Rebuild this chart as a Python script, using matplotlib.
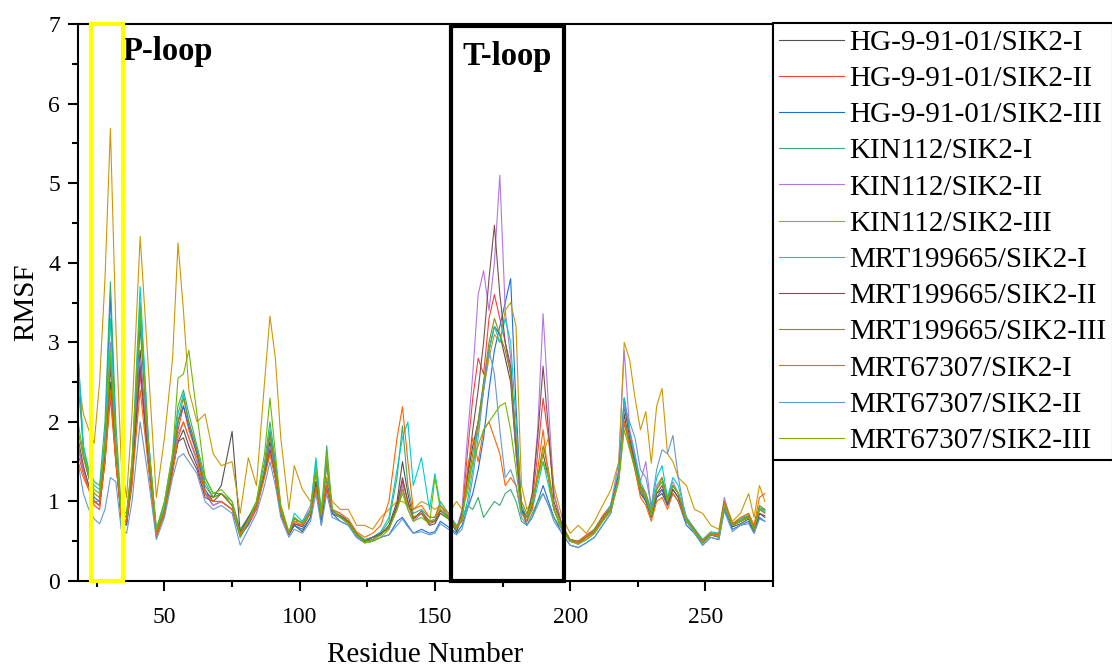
import matplotlib
matplotlib.use("Agg")
import matplotlib.pyplot as plt
from matplotlib.patches import Rectangle
from matplotlib.ticker import MultipleLocator

plt.rcParams['font.family'] = ['Liberation Serif', 'DejaVu Serif']

# residue positions (shared by all series), split by region
res_a = [18, 20, 22, 24, 26, 28, 30, 32, 34, 36, 38]
res_b = [41, 44, 47, 50, 53, 55, 57, 59, 62, 65, 68, 71]
res_c = [75, 78, 81, 84, 87, 89, 91, 93, 96, 98, 101, 104, 106, 108, 110, 112]
res_d = [115, 118, 121, 124, 127, 130, 133, 136, 138, 140, 142, 145, 148, 150, 152, 155, 158]
res_e = [160, 162, 164, 166, 168, 170, 172, 174, 176, 178, 180, 182, 184, 186, 188, 190, 192, 194, 197]
res_f = [200, 203, 206, 209, 212, 215, 218, 220, 222, 224, 226, 228, 230, 232, 234, 236, 238, 240]
res_g = [243, 246, 249, 252, 255, 257, 260, 263, 266, 268, 270, 272]
residues = res_a + res_b + res_c + res_d + res_e + res_f + res_g

labels = ["HG-9-91-01/SIK2-I", "HG-9-91-01/SIK2-II", "HG-9-91-01/SIK2-III",
          "KIN112/SIK2-I", "KIN112/SIK2-II", "KIN112/SIK2-III",
          "MRT199665/SIK2-I", "MRT199665/SIK2-II", "MRT199665/SIK2-III",
          "MRT67307/SIK2-I", "MRT67307/SIK2-II", "MRT67307/SIK2-III"]
colors = ['#515151', '#F14040', '#1A6FDF', '#37AD6B', '#B177DE', '#CC9900',
          '#00CBCC', '#7D4E4E', '#8E8E00', '#FB6501', '#6699CC', '#6FB802']

hg_1 = ([1.7, 1.4, 1.2, 1.0, 0.95, 1.5, 2.5, 1.5, 0.8, 0.75, 1.25]
        + [2.9, 1.5, 0.6, 0.85, 1.4, 1.75, 1.9, 1.7, 1.45, 1.1, 1.05, 1.2]
        + [1.88, 0.6, 0.8, 0.9, 1.35, 1.75, 1.3, 0.85, 0.58, 0.7, 0.62, 0.8, 1.2, 0.75, 1.2, 0.85]
        + [0.8, 0.72, 0.58, 0.5, 0.55, 0.58, 0.7, 1.0, 1.5, 1.1, 0.8, 0.85, 0.7, 0.72, 0.85, 0.78, 0.62]
        + [0.8, 1.3, 1.7, 2.0, 2.4, 2.9, 3.2, 3.1, 2.8, 2.5, 1.6, 0.9, 0.75, 0.95, 1.3, 1.6, 1.3, 0.9, 0.65]
        + [0.5, 0.48, 0.55, 0.62, 0.78, 0.9, 1.35, 2.1, 1.7, 1.4, 1.1, 1.0, 0.8, 1.05, 1.1, 0.95, 1.15, 1.05]
        + [0.75, 0.62, 0.48, 0.58, 0.55, 0.95, 0.68, 0.72, 0.78, 0.62, 0.85, 0.8])
hg_2 = ([1.6, 1.35, 1.15, 0.95, 0.9, 1.5, 2.3, 1.5, 0.8, 0.72, 1.2]
        + [2.6, 1.5, 0.55, 0.85, 1.45, 1.9, 2.2, 1.9, 1.6, 1.1, 0.95, 1.0]
        + [0.9, 0.58, 0.7, 0.9, 1.35, 1.6, 1.3, 0.85, 0.6, 0.72, 0.7, 0.9, 1.15, 0.85, 1.15, 0.88]
        + [0.82, 0.75, 0.6, 0.5, 0.55, 0.6, 0.65, 0.95, 1.25, 1.0, 0.78, 0.85, 0.72, 0.75, 0.9, 0.78, 0.66]
        + [0.8, 1.6, 2.3, 2.8, 2.6, 3.3, 3.6, 3.3, 3.0, 2.6, 1.7, 0.95, 0.8, 1.0, 1.6, 2.3, 1.8, 1.1, 0.7]
        + [0.52, 0.5, 0.58, 0.65, 0.82, 0.95, 1.3, 2.0, 1.75, 1.5, 1.2, 1.05, 0.82, 1.1, 1.15, 1.0, 1.2, 1.1]
        + [0.8, 0.66, 0.52, 0.6, 0.58, 0.95, 0.7, 0.75, 0.82, 0.66, 0.9, 0.88])
hg_3 = ([2.9, 1.6, 1.3, 1.05, 1.0, 1.8, 3.6, 1.7, 0.75, 0.7, 1.3]
        + [3.2, 1.7, 0.62, 0.9, 1.5, 2.0, 2.2, 1.95, 1.6, 1.15, 1.0, 1.0]
        + [0.9, 0.55, 0.72, 0.95, 1.4, 1.85, 1.4, 0.85, 0.58, 0.7, 0.65, 0.8, 1.25, 0.7, 1.3, 0.85]
        + [0.75, 0.7, 0.55, 0.48, 0.5, 0.55, 0.58, 0.75, 0.8, 0.7, 0.6, 0.65, 0.6, 0.62, 0.75, 0.68, 0.6]
        + [0.7, 0.9, 1.1, 1.4, 1.8, 2.4, 2.9, 3.2, 3.5, 3.8, 2.2, 0.9, 0.7, 0.8, 1.0, 1.2, 1.0, 0.8, 0.6]
        + [0.45, 0.42, 0.48, 0.55, 0.7, 0.85, 1.3, 2.3, 1.9, 1.5, 1.15, 1.0, 0.8, 1.05, 1.15, 0.95, 1.1, 1.0]
        + [0.7, 0.6, 0.45, 0.55, 0.52, 0.9, 0.65, 0.7, 0.75, 0.6, 0.8, 0.75])
kin_1 = ([2.5, 1.7, 1.4, 1.25, 1.2, 2.0, 3.76, 2.0, 0.9, 0.85, 1.5]
         + [3.5, 1.8, 0.65, 1.0, 1.6, 2.2, 2.4, 2.1, 1.7, 1.3, 1.1, 1.1]
         + [1.0, 0.65, 0.8, 1.0, 1.5, 2.0, 1.5, 0.95, 0.6, 0.8, 0.72, 0.9, 1.5, 0.85, 1.7, 0.9]
         + [0.8, 0.75, 0.6, 0.5, 0.52, 0.6, 0.75, 1.3, 1.95, 1.2, 0.85, 0.9, 0.8, 0.8, 1.0, 0.85, 0.7]
         + [0.75, 0.95, 0.9, 1.05, 0.8, 0.9, 1.0, 0.95, 1.1, 1.15, 1.0, 0.75, 0.7, 0.85, 1.0, 1.1, 0.95, 0.8, 0.65]
         + [0.5, 0.48, 0.52, 0.6, 0.75, 0.9, 1.3, 2.0, 1.75, 1.45, 1.15, 1.05, 0.82, 1.15, 1.25, 1.0, 1.2, 1.1]
         + [0.75, 0.62, 0.5, 0.6, 0.58, 0.95, 0.7, 0.78, 0.82, 0.65, 0.92, 0.9])
kin_2 = ([1.7, 1.4, 1.2, 1.0, 1.0, 1.7, 3.0, 1.6, 0.85, 0.8, 1.3]
         + [2.8, 1.6, 0.6, 0.9, 1.45, 1.85, 2.0, 1.8, 1.5, 1.1, 0.95, 1.0]
         + [0.9, 0.6, 0.75, 0.9, 1.35, 1.7, 1.35, 0.88, 0.6, 0.75, 0.75, 0.95, 1.2, 0.8, 1.45, 0.88]
         + [0.8, 0.72, 0.6, 0.52, 0.55, 0.6, 0.66, 0.9, 1.2, 0.9, 0.75, 0.85, 0.75, 0.78, 0.9, 0.8, 0.65]
         + [0.9, 1.8, 2.6, 3.6, 3.9, 3.4, 4.0, 5.1, 3.4, 2.8, 1.6, 0.9, 0.8, 1.1, 1.9, 3.36, 2.2, 1.1, 0.7]
         + [0.52, 0.5, 0.55, 0.65, 0.8, 0.95, 1.5, 2.9, 1.9, 1.6, 1.25, 1.5, 0.9, 1.2, 1.3, 1.05, 1.25, 1.1]
         + [0.8, 0.65, 0.5, 0.6, 0.6, 1.05, 0.7, 0.75, 0.8, 0.65, 0.9, 0.85])
kin_3 = ([2.6, 2.1, 1.9, 1.73, 2.5, 3.8, 5.69, 3.2, 1.5, 1.05, 2.1]
         + [4.33, 2.7, 1.05, 1.8, 2.8, 4.25, 3.4, 2.4, 2.0, 2.1, 1.6, 1.45]
         + [1.5, 0.85, 1.55, 1.2, 2.5, 3.33, 2.8, 1.8, 0.9, 1.45, 1.15, 1.0, 1.2, 0.95, 1.3, 1.0]
         + [0.9, 0.9, 0.7, 0.7, 0.65, 0.8, 0.9, 1.0, 1.0, 0.95, 0.9, 1.0, 0.95, 0.9, 0.95, 0.85, 1.0]
         + [0.9, 1.1, 1.5, 1.9, 2.4, 2.8, 3.1, 3.0, 3.4, 3.5, 3.2, 1.2, 0.9, 1.0, 1.3, 1.6, 1.8, 1.2, 0.8]
         + [0.6, 0.7, 0.6, 0.75, 0.95, 1.14, 1.5, 3.0, 2.78, 2.3, 1.9, 2.13, 1.48, 2.2, 2.42, 1.6, 1.5, 1.3]
         + [1.2, 0.9, 0.85, 0.7, 0.65, 1.0, 0.75, 0.85, 1.1, 0.8, 1.2, 1.0])
mrt199_1 = ([2.9, 1.7, 1.35, 1.2, 1.15, 1.8, 3.3, 1.8, 0.85, 0.8, 1.5]
            + [3.7, 1.8, 0.62, 0.95, 1.55, 2.1, 2.35, 2.0, 1.65, 1.25, 1.05, 1.1]
            + [0.95, 0.6, 0.78, 0.95, 1.4, 1.9, 1.45, 0.9, 0.6, 0.85, 0.75, 0.9, 1.55, 0.85, 1.5, 0.9]
            + [0.85, 0.75, 0.6, 0.52, 0.55, 0.62, 0.8, 1.4, 1.8, 2.0, 1.2, 1.55, 0.9, 1.35, 0.95, 0.8, 0.7]
            + [0.75, 1.0, 1.4, 2.0, 2.5, 2.9, 3.2, 3.0, 3.3, 3.0, 2.0, 0.95, 0.8, 0.9, 1.2, 1.5, 1.2, 0.9, 0.65]
            + [0.5, 0.48, 0.55, 0.65, 0.8, 0.95, 1.4, 2.3, 1.85, 1.55, 1.25, 1.1, 0.9, 1.3, 1.45, 1.05, 1.3, 1.2]
            + [0.8, 0.65, 0.52, 0.62, 0.6, 0.95, 0.72, 0.78, 0.85, 0.68, 0.92, 0.88])
mrt199_2 = ([1.8, 1.45, 1.2, 1.0, 0.95, 1.6, 2.7, 1.6, 0.8, 0.75, 1.3]
            + [2.7, 1.5, 0.58, 0.85, 1.4, 1.75, 1.8, 1.6, 1.4, 1.05, 1.0, 1.1]
            + [0.95, 0.62, 0.8, 0.95, 1.35, 1.65, 1.3, 0.85, 0.6, 0.72, 0.68, 0.85, 1.25, 0.8, 1.2, 0.88]
            + [0.82, 0.75, 0.58, 0.5, 0.55, 0.6, 0.68, 0.95, 1.3, 1.0, 0.78, 0.88, 0.75, 0.75, 0.88, 0.8, 0.65]
            + [0.85, 1.3, 1.9, 2.4, 3.0, 3.8, 4.47, 3.6, 3.0, 2.7, 1.7, 0.9, 0.8, 1.1, 1.8, 2.7, 1.9, 1.0, 0.7]
            + [0.5, 0.48, 0.55, 0.62, 0.78, 0.9, 1.35, 2.2, 1.8, 1.45, 1.15, 1.05, 0.82, 1.1, 1.2, 0.98, 1.15, 1.05]
            + [0.75, 0.62, 0.48, 0.58, 0.56, 0.98, 0.7, 0.75, 0.8, 0.62, 0.85, 0.82])
mrt199_3 = ([1.9, 1.55, 1.3, 1.1, 1.05, 1.7, 2.8, 1.7, 0.85, 0.8, 1.4]
            + [3.3, 1.7, 0.6, 0.9, 1.5, 2.0, 2.3, 2.0, 1.65, 1.2, 1.05, 1.1]
            + [0.95, 0.58, 0.75, 0.95, 1.4, 1.85, 1.4, 0.9, 0.6, 0.78, 0.72, 0.88, 1.35, 0.82, 1.5, 0.9]
            + [0.8, 0.74, 0.6, 0.5, 0.52, 0.58, 0.68, 0.9, 1.15, 0.95, 0.8, 0.85, 0.74, 0.76, 0.9, 0.8, 0.66]
            + [0.8, 1.2, 1.6, 2.0, 2.5, 3.0, 3.3, 3.1, 2.9, 2.6, 1.8, 1.0, 0.85, 1.0, 1.3, 1.7, 1.4, 0.95, 0.7]
            + [0.52, 0.5, 0.56, 0.65, 0.8, 0.92, 1.3, 2.0, 1.7, 1.45, 1.2, 1.1, 0.85, 1.15, 1.3, 1.02, 1.2, 1.1]
            + [0.78, 0.64, 0.5, 0.6, 0.58, 1.0, 0.72, 0.76, 0.82, 0.66, 0.95, 0.9])
mrt673_1 = ([1.5, 1.3, 1.15, 1.0, 0.95, 1.5, 2.4, 1.5, 0.82, 0.75, 1.25]
            + [2.4, 1.45, 0.58, 0.85, 1.35, 1.8, 2.0, 1.8, 1.55, 1.1, 1.0, 1.0]
            + [0.9, 0.6, 0.75, 0.92, 1.3, 1.6, 1.3, 0.85, 0.6, 0.75, 0.7, 0.85, 1.15, 0.85, 1.2, 0.9]
            + [0.85, 0.78, 0.62, 0.55, 0.6, 0.7, 1.0, 1.8, 2.19, 1.5, 0.9, 0.95, 0.8, 0.8, 0.95, 0.82, 0.68]
            + [0.75, 1.4, 1.8, 1.5, 1.9, 2.0, 1.8, 1.6, 1.2, 1.3, 1.2, 0.85, 0.75, 0.9, 1.4, 1.9, 1.3, 0.9, 0.65]
            + [0.5, 0.48, 0.55, 0.62, 0.78, 0.9, 1.3, 2.0, 1.7, 1.4, 1.05, 0.95, 0.75, 1.0, 1.05, 0.9, 1.1, 1.0]
            + [0.75, 0.62, 0.5, 0.6, 0.58, 0.98, 0.72, 0.8, 0.85, 0.7, 1.05, 1.1])
mrt673_2 = ([1.5, 1.1, 0.9, 0.78, 0.72, 0.9, 1.3, 1.25, 0.65, 0.6, 1.0]
            + [2.0, 1.3, 0.52, 0.8, 1.3, 1.55, 1.6, 1.5, 1.35, 1.0, 0.9, 0.95]
            + [0.85, 0.45, 0.65, 0.85, 1.2, 1.5, 1.2, 0.8, 0.55, 0.65, 0.6, 0.75, 1.1, 0.7, 1.1, 0.8]
            + [0.75, 0.7, 0.55, 0.48, 0.5, 0.55, 0.58, 0.7, 0.78, 0.68, 0.6, 0.62, 0.58, 0.6, 0.72, 0.65, 0.58]
            + [0.65, 0.9, 1.3, 1.8, 2.4, 2.9, 2.6, 1.9, 1.3, 1.4, 1.2, 0.8, 0.7, 0.8, 0.95, 1.1, 0.95, 0.75, 0.6]
            + [0.45, 0.42, 0.48, 0.55, 0.7, 0.85, 1.3, 2.2, 2.0, 1.8, 1.4, 1.3, 0.95, 1.4, 1.65, 1.6, 1.83, 1.3]
            + [0.75, 0.6, 0.45, 0.55, 0.52, 0.88, 0.62, 0.7, 0.72, 0.6, 0.78, 0.75])
mrt673_3 = ([2.0, 1.6, 1.35, 1.15, 1.1, 1.7, 2.9, 1.7, 0.9, 0.85, 1.5]
            + [3.4, 1.75, 0.65, 1.0, 1.6, 2.55, 2.6, 2.9, 2.1, 1.3, 1.1, 1.15]
            + [1.0, 0.55, 0.75, 1.0, 1.6, 2.3, 1.6, 0.95, 0.62, 0.8, 0.72, 0.88, 1.4, 0.82, 1.6, 0.9]
            + [0.8, 0.72, 0.58, 0.48, 0.5, 0.55, 0.65, 0.9, 1.1, 0.9, 0.75, 0.8, 0.72, 1.3, 0.9, 0.78, 0.65]
            + [0.8, 1.2, 1.5, 1.7, 1.9, 2.0, 2.1, 2.2, 2.24, 1.9, 1.4, 0.85, 0.8, 1.0, 1.3, 1.5, 1.3, 0.9, 0.65]
            + [0.5, 0.46, 0.52, 0.6, 0.75, 0.88, 1.25, 1.9, 1.65, 1.4, 1.15, 1.05, 0.82, 1.15, 1.25, 1.0, 1.2, 1.1]
            + [0.76, 0.62, 0.48, 0.58, 0.56, 0.95, 0.7, 0.75, 0.8, 0.64, 0.9, 0.86])

series = [hg_1, hg_2, hg_3, kin_1, kin_2, kin_3,
          mrt199_1, mrt199_2, mrt199_3, mrt673_1, mrt673_2, mrt673_3]

fig = plt.figure(figsize=(11.12, 6.69), dpi=100)
ax = fig.add_axes([0.0701, 0.1315, 0.625, 0.8326])

for vals, lab, col in zip(series, labels, colors):
    ax.plot(residues, vals, color=col, lw=0.8, label=lab)

# highlighted loop regions
ax.add_patch(Rectangle((22.8, 0), 11.7, 7.0, fill=False, edgecolor='#FFFF00', lw=3, zorder=5, clip_on=False))
ax.add_patch(Rectangle((155.9, 0), 41.9, 6.97, fill=False, edgecolor='black', lw=3, zorder=5, clip_on=False))
ax.text(34.6, 6.65, "P-loop", fontsize=23.5, fontweight='bold', va='center', ha='left')
ax.text(160.3, 6.59, "T-loop", fontsize=23.5, fontweight='bold', va='center', ha='left')

ax.set_xlim(18, 275)
ax.set_ylim(0, 7)
ax.xaxis.set_major_locator(MultipleLocator(50))
ax.xaxis.set_minor_locator(MultipleLocator(25))
ax.yaxis.set_major_locator(MultipleLocator(1))
ax.yaxis.set_minor_locator(MultipleLocator(0.5))
ax.tick_params(which='major', direction='out', length=7, width=1.5, labelsize=17, pad=6)
ax.tick_params(axis='x', which='major', pad=12)
ax.tick_params(which='minor', direction='out', length=4.5, width=1.5)
for sp in ax.spines.values():
    sp.set_linewidth(1.5)

ax.set_xlabel("Residue Number", fontsize=21, labelpad=10)
ax.set_ylabel("RMSF", fontsize=21, labelpad=6)

leg = fig.legend(loc='upper left', bbox_to_anchor=(773 / 1112, 1 - 23 / 669),
                 fontsize=21, frameon=True, fancybox=False, edgecolor='black',
                 framealpha=1, borderaxespad=0, handlelength=2.2, handletextpad=0.2,
                 labelspacing=0.335, borderpad=0.22)
leg.get_frame().set_linewidth(1.5)

fig.savefig("out.png", dpi=100)
